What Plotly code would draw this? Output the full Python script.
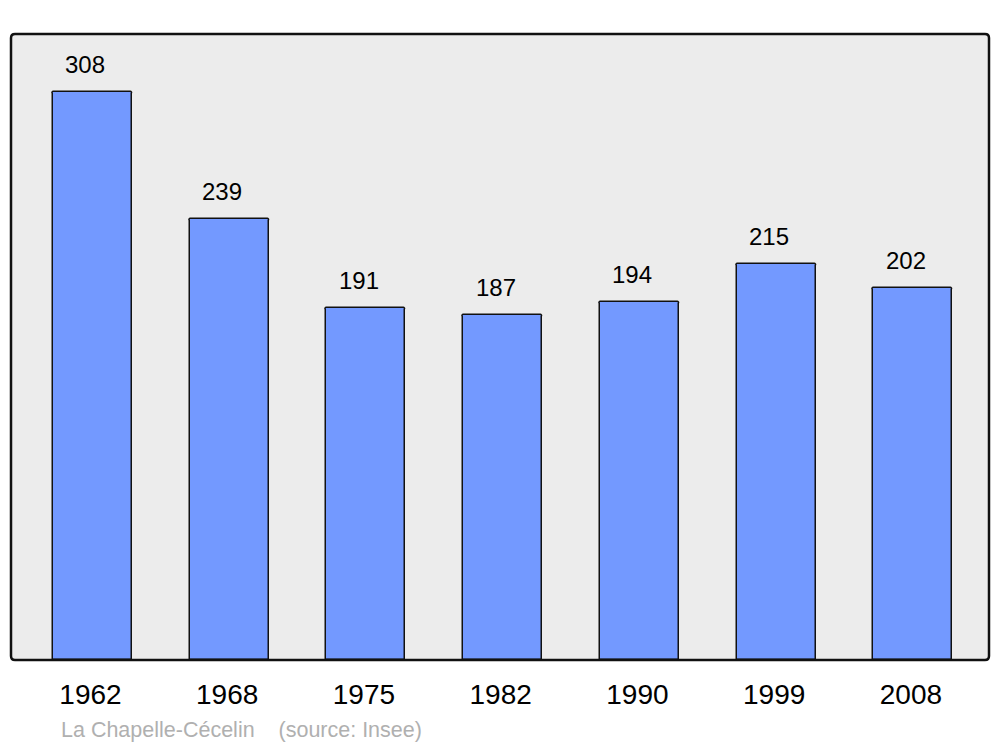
import plotly.graph_objects as go

years = ["1962", "1968", "1975", "1982", "1990", "1999", "2008"]
population = [308, 239, 191, 187, 194, 215, 202]
commune = "La Chapelle-Cécelin"
source = "(source: Insee)"

W, H = 1000, 747
L, R, T, B = 11, 11, 34, 87
FONT = "Liberation Sans, Arial, sans-serif"

fig = go.Figure()
fig.add_trace(go.Bar(
    x=years, y=population, width=0.578, offset=-0.2744,
    marker=dict(color="#7399ff", line=dict(color="#111111", width=1.5), cornerradius=2),
    hoverinfo="skip",
))

for i, v in enumerate(population):
    fig.add_annotation(x=i, y=v, text=str(v), showarrow=False,
                       xanchor="center", yanchor="bottom", yshift=12, xshift=-5,
                       font=dict(family=FONT, size=24, color="#000000"))

# rounded frame around plot area
pw, ph = W - L - R, H - T - B
rx, ry = 4 / pw, 4 / ph
path = (f"M {rx},0 L {1-rx},0 Q 1,0 1,{ry} L 1,{1-ry} Q 1,1 {1-rx},1 "
        f"L {rx},1 Q 0,1 0,{1-ry} L 0,{ry} Q 0,0 {rx},0 Z")
fig.add_shape(type="path", path=path, xref="paper", yref="paper",
              line=dict(color="#111111", width=2.5), layer="above")

fig.add_annotation(x=(59 - L) / pw, y=(H - B - 730) / ph, xref="paper", yref="paper",
                   text=commune + "    " + source,
                   showarrow=False, xanchor="left", yanchor="middle",
                   font=dict(family=FONT, size=21.5, color="#b0b0b0"))

fig.update_layout(
    width=W, height=H,
    margin=dict(l=L, r=R, t=T, b=B),
    paper_bgcolor="#ffffff", plot_bgcolor="#ececec",
    showlegend=False,
    bargap=0,
    xaxis=dict(type="category", range=[-0.581, 6.571], showgrid=False, zeroline=False,
               showline=False, ticks="", ticklabelstandoff=15,
               tickfont=dict(family=FONT, size=28, color="#000000")),
    yaxis=dict(range=[0, 339.5], showgrid=False, zeroline=False, showline=False,
               showticklabels=False, ticks=""),
)

fig.write_html("out.html", config={"displayModeBar": False},
               post_script="document.body.style.margin='0';")
